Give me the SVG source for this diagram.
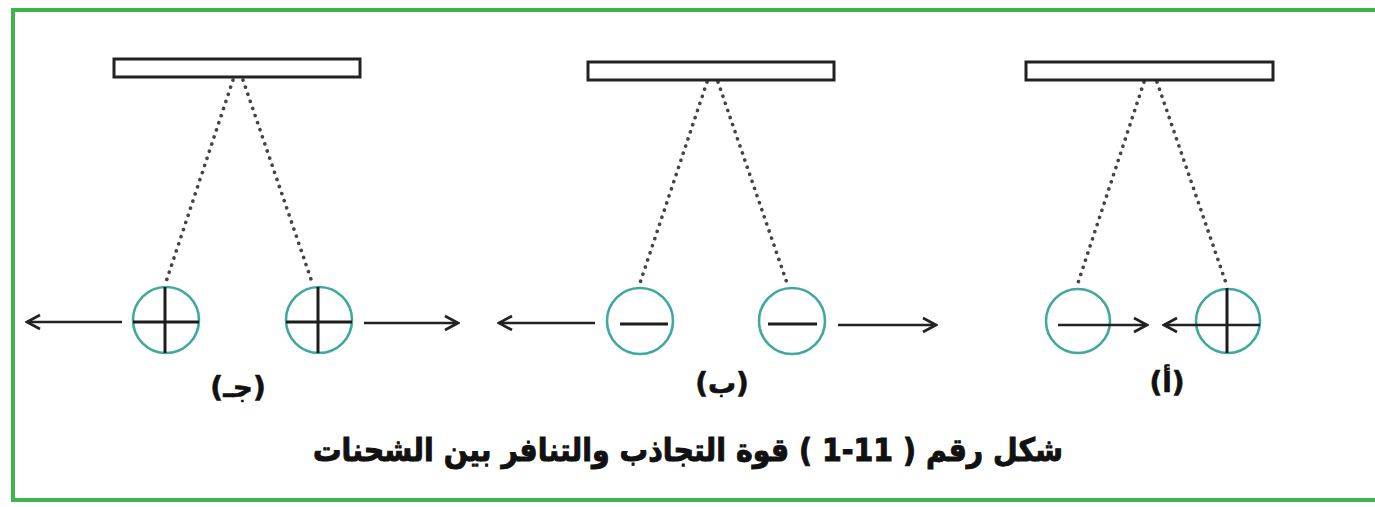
<svg xmlns="http://www.w3.org/2000/svg" width="1375" height="507" viewBox="0 0 1375 507">
<defs>
<style>
.bar{fill:#fff;stroke:#222;stroke-width:3}
.str{stroke:#444;stroke-width:3.6;stroke-dasharray:0.1 7.4;stroke-linecap:round;fill:none}
.ball{fill:#fff;stroke:#3fa99e;stroke-width:2.6}
.sign{stroke:#1c1c1c;stroke-width:3;fill:none}
.arr{stroke:#222;stroke-width:2.6;fill:none;marker-end:url(#ah)}
.lbl{font-family:"DejaVu Sans",sans-serif;font-weight:bold;font-size:28px;fill:#111;stroke:#111;stroke-width:0.6;text-anchor:middle}
.cap{font-family:"DejaVu Sans",sans-serif;font-weight:bold;font-size:32px;fill:#111;stroke:#111;stroke-width:1;text-anchor:middle}
</style>
<marker id="ah" viewBox="-15 -9 17 18" refX="0" refY="0" markerWidth="17" markerHeight="18" markerUnits="userSpaceOnUse" orient="auto">
<path d="M-13,-7 L0,0 L-13,7" fill="none" stroke="#222" stroke-width="2.6" stroke-linejoin="miter"/>
</marker>
</defs>
<rect x="0" y="0" width="1375" height="507" fill="#fff"/>
<rect x="13" y="10" width="1400" height="490" fill="none" stroke="#3db54a" stroke-width="4"/>

<g id="connectors">
<line class="str" x1="233" y1="80" x2="165" y2="285"/>
<line class="str" x1="243" y1="80" x2="313" y2="285"/>
<line class="str" x1="707" y1="82" x2="639" y2="286"/>
<line class="str" x1="718" y1="82" x2="788" y2="286"/>
<line class="str" x1="1144" y1="82" x2="1077" y2="286"/>
<line class="str" x1="1157" y1="82" x2="1227" y2="286"/>
<line class="arr" x1="122" y1="322" x2="27" y2="322"/>
<line class="arr" x1="364" y1="323" x2="458" y2="323"/>
<line class="arr" x1="595" y1="323" x2="499" y2="323"/>
<line class="arr" x1="838" y1="325" x2="936" y2="325"/>
</g>

<g id="group-c">
<rect class="bar" x="114" y="59" width="246" height="18"/>
<g id="c-left">
<circle class="ball" cx="166" cy="320" r="33"/>
<line class="sign" x1="133" y1="322" x2="199" y2="322"/>
<line class="sign" x1="165" y1="287" x2="165" y2="353"/>
</g>
<g id="c-right">
<circle class="ball" cx="319" cy="320" r="33"/>
<line class="sign" x1="286" y1="322" x2="352" y2="322"/>
<line class="sign" x1="318" y1="287" x2="318" y2="353"/>
</g>
<text class="lbl" x="238" y="397">(جـ)</text>
</g>

<g id="group-b">
<rect class="bar" x="588" y="62" width="246" height="18"/>
<g id="b-left">
<circle class="ball" cx="640" cy="321" r="33"/>
<line class="sign" x1="620" y1="324" x2="668" y2="324"/>
</g>
<g id="b-right">
<circle class="ball" cx="792" cy="321" r="33"/>
<line class="sign" x1="768" y1="324" x2="817" y2="324"/>
</g>
<text class="lbl" x="722" y="393">(ب)</text>
</g>

<g id="group-a">
<rect class="bar" x="1026" y="62" width="247" height="18"/>
<g id="a-left">
<circle class="ball" cx="1078" cy="321" r="32"/>
<line class="arr" x1="1058" y1="325" x2="1147" y2="325"/>
</g>
<g id="a-right">
<circle class="ball" cx="1228" cy="321" r="32"/>
<line class="sign" x1="1227" y1="288" x2="1227" y2="353"/>
<line class="arr" x1="1260" y1="325" x2="1164" y2="325"/>
</g>
<text class="lbl" x="1167" y="392">(أ)</text>
</g>

<g id="caption">
<text class="cap" x="688" y="461" direction="rtl" textLength="750" lengthAdjust="spacingAndGlyphs">شكل رقم ( 11-1 ) قوة التجاذب والتنافر بين الشحنات</text>
</g>
</svg>
